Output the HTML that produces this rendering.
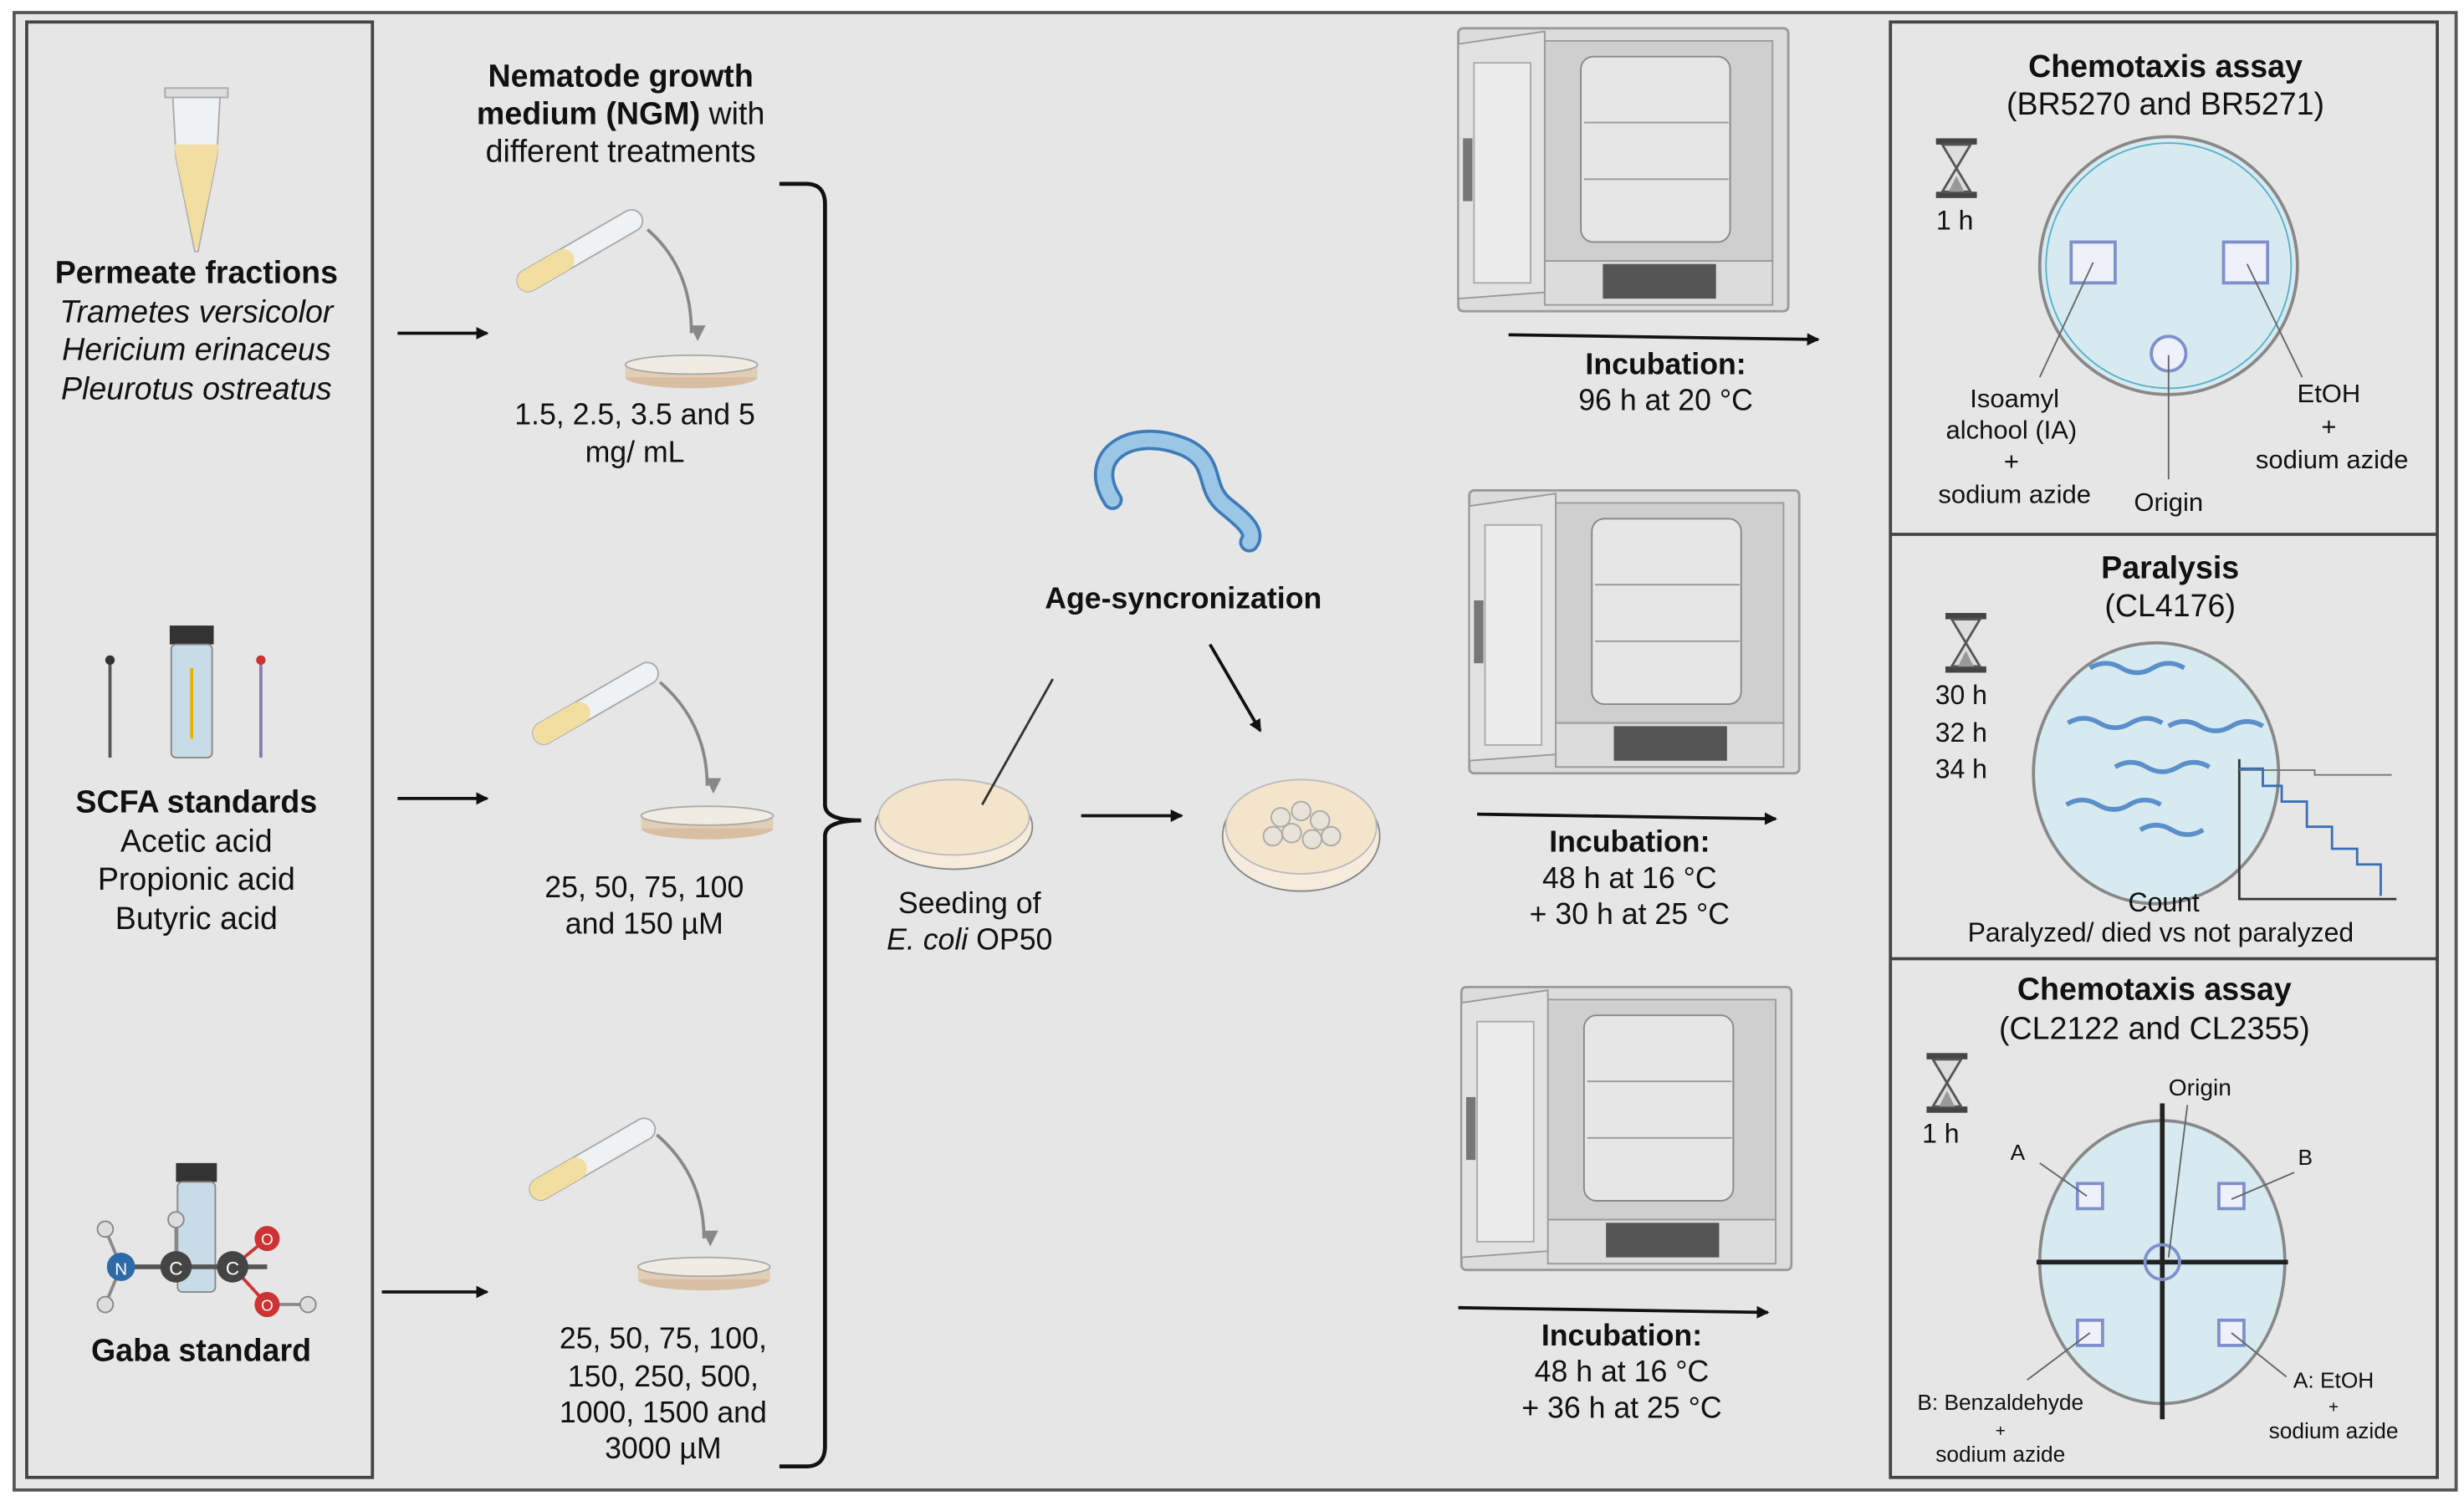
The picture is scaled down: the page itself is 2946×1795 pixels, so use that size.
<!DOCTYPE html>
<html><head><meta charset="utf-8"><style>
html,body{margin:0;padding:0;background:#fff;}
svg{display:block;}
text{font-family:"Liberation Sans",Arial,sans-serif;fill:#111;}
.b{font-weight:bold;}
</style></head><body>
<svg width="2946" height="1795" viewBox="0 0 1568 955" preserveAspectRatio="none" xmlns="http://www.w3.org/2000/svg">
<defs>
<marker id="ar" markerWidth="8" markerHeight="8" refX="7" refY="4" orient="auto" markerUnits="userSpaceOnUse"><path d="M0,0 L8,4 L0,8 Z" fill="#111"/></marker>
<marker id="ag" markerWidth="10" markerHeight="10" refX="5" refY="9" orient="auto" markerUnits="userSpaceOnUse"><path d="M0,0 L10,0 L5,10 Z" fill="#888" transform="rotate(-90 5 5)"/></marker>
<g id="inc">
  <rect x="0" y="0" width="210" height="180" fill="#dcdcdc" stroke="#9a9a9a" stroke-width="1.5" rx="3"/>
  <rect x="55" y="8" width="145" height="140" fill="#cfcfcf" stroke="#9a9a9a"/>
  <rect x="78" y="18" width="95" height="118" fill="#e6e6e6" stroke="#888" rx="8"/>
  <line x1="80" y1="60" x2="172" y2="60" stroke="#999"/>
  <line x1="80" y1="96" x2="172" y2="96" stroke="#999"/>
  <rect x="92" y="150" width="72" height="22" fill="#555"/>
  <rect x="55" y="148" width="145" height="28" fill="none" stroke="#9a9a9a"/>
  <path d="M0,10 L55,2 L55,168 L0,172 Z" fill="#e2e2e2" stroke="#999"/>
  <rect x="10" y="22" width="36" height="140" fill="#ececec" stroke="#aaa"/>
  <rect x="3" y="70" width="6" height="40" fill="#777"/>
</g>
<g id="hg">
  <rect x="0" y="0" width="26" height="4" fill="#444"/>
  <rect x="0" y="34" width="26" height="4" fill="#444"/>
  <path d="M4,4 L22,4 L13,19 L22,34 L4,34 L13,19 Z" fill="#ddd" stroke="#555" stroke-width="1.5"/>
  <path d="M8,34 L13,24 L18,34 Z" fill="#999"/>
</g>
<g id="tube">
  <g transform="rotate(-30)">
    <rect x="0" y="-7" width="90" height="14" rx="7" fill="#eef2f4" stroke="#aaa"/>
    <rect x="0" y="-7" width="40" height="14" rx="7" fill="#f1dea0"/>
  </g>
</g>
<g id="dish">
  <ellipse cx="0" cy="8" rx="42" ry="7" fill="#d8bfa4"/>
  <rect x="-42" y="0" width="84" height="8" fill="#e2cdb5"/>
  <ellipse cx="0" cy="0" rx="42" ry="6" fill="#f0ece4" stroke="#aaa"/>
</g>
</defs>
<rect x="0" y="0" width="1568" height="955" fill="#fff"/>
<rect x="9" y="8" width="1554" height="940" fill="#e6e6e6" stroke="#555" stroke-width="2"/>
<rect x="17" y="14" width="220" height="926" fill="#e6e6e6" stroke="#444" stroke-width="2"/>
<rect x="1203" y="14" width="348" height="926" fill="#e6e6e6" stroke="#444" stroke-width="2"/>
<line x1="1203" y1="340" x2="1551" y2="340" stroke="#444" stroke-width="2"/>
<line x1="1203" y1="610" x2="1551" y2="610" stroke="#444" stroke-width="2"/>

<!-- left column -->
<rect x="105" y="56" width="40" height="6" fill="#ddd" stroke="#aaa"/>
<path d="M110,62 L140,62 L138,100 L126,160 L124,160 L112,100 Z" fill="#eef2f4" stroke="#aaa"/>
<path d="M111,92 L139,92 L138,100 L126,158 L124,158 L112,100 Z" fill="#f1dea0"/>
<text x="125" y="180" font-size="20" text-anchor="middle" class="b">Permeate fractions</text>
<g font-size="20" font-style="italic" text-anchor="middle">
<text x="125" y="205">Trametes versicolor</text>
<text x="125" y="229">Hericium erinaceus</text>
<text x="125" y="254">Pleurotus ostreatus</text>
</g>
<line x1="70" y1="420" x2="70" y2="482" stroke="#555" stroke-width="2"/><circle cx="70" cy="420" r="3" fill="#333"/>
<rect x="108" y="398" width="28" height="12" fill="#333"/>
<rect x="109" y="410" width="26" height="72" rx="3" fill="#c8dce8" stroke="#888"/>
<line x1="122" y1="425" x2="122" y2="470" stroke="#e2b200" stroke-width="2"/>
<line x1="166" y1="420" x2="166" y2="482" stroke="#8a7ab0" stroke-width="2"/><circle cx="166" cy="420" r="3" fill="#c33"/>
<text x="125" y="517" font-size="20" text-anchor="middle" class="b">SCFA standards</text>
<g font-size="20" text-anchor="middle">
<text x="125" y="542">Acetic acid</text>
<text x="125" y="566">Propionic acid</text>
<text x="125" y="591">Butyric acid</text>
</g>
<rect x="112" y="740" width="26" height="12" fill="#333"/>
<rect x="113" y="752" width="24" height="70" rx="3" fill="#c8dce8" stroke="#888"/>
<line x1="77" y1="806" x2="170" y2="806" stroke="#555" stroke-width="3"/>
<line x1="112" y1="806" x2="112" y2="778" stroke="#888" stroke-width="2"/>
<line x1="148" y1="806" x2="170" y2="788" stroke="#c33" stroke-width="2"/>
<line x1="148" y1="806" x2="170" y2="830" stroke="#c33" stroke-width="2"/>
<line x1="77" y1="806" x2="67" y2="782" stroke="#888" stroke-width="2"/>
<line x1="77" y1="806" x2="67" y2="830" stroke="#888" stroke-width="2"/>
<line x1="170" y1="830" x2="196" y2="830" stroke="#888" stroke-width="2"/>
<circle cx="67" cy="782" r="5" fill="#ddd" stroke="#888"/>
<circle cx="67" cy="830" r="5" fill="#ddd" stroke="#888"/>
<circle cx="196" cy="830" r="5" fill="#ddd" stroke="#888"/>
<circle cx="112" cy="776" r="5" fill="#ddd" stroke="#888"/>
<circle cx="77" cy="806" r="9" fill="#2d6aa8"/><text x="77" y="811" font-size="11" text-anchor="middle" style="fill:#fff">N</text>
<circle cx="112" cy="806" r="10" fill="#444"/><text x="112" y="811" font-size="12" text-anchor="middle" style="fill:#fff">C</text>
<circle cx="148" cy="806" r="10" fill="#444"/><text x="148" y="811" font-size="12" text-anchor="middle" style="fill:#fff">C</text>
<circle cx="170" cy="788" r="8" fill="#c33"/><text x="170" y="792" font-size="10" text-anchor="middle" style="fill:#fff">O</text>
<circle cx="170" cy="830" r="8" fill="#c33"/><text x="170" y="834" font-size="10" text-anchor="middle" style="fill:#fff">O</text>
<text x="128" y="866" font-size="20" text-anchor="middle" class="b">Gaba standard</text>

<!-- NGM -->
<text x="395" y="55" font-size="20" text-anchor="middle" class="b">Nematode growth</text>
<text x="395" y="79" font-size="20" text-anchor="middle"><tspan font-weight="bold">medium (NGM)</tspan> with</text>
<text x="395" y="103" font-size="20" text-anchor="middle">different treatments</text>
<line x1="253" y1="212" x2="310" y2="212" stroke="#111" stroke-width="2" marker-end="url(#ar)"/>
<line x1="253" y1="508" x2="310" y2="508" stroke="#111" stroke-width="2" marker-end="url(#ar)"/>
<line x1="243" y1="822" x2="310" y2="822" stroke="#111" stroke-width="2" marker-end="url(#ar)"/>
<use href="#tube" x="330" y="182"/>
<path d="M412,146 Q440,170 440,212" fill="none" stroke="#888" stroke-width="2" marker-end="url(#ag)"/>
<use href="#dish" x="440" y="232"/>
<text x="404" y="270" font-size="19" text-anchor="middle">1.5, 2.5, 3.5 and 5</text>
<text x="404" y="294" font-size="19" text-anchor="middle">mg/ mL</text>
<use href="#tube" x="340" y="470"/>
<path d="M420,434 Q450,460 450,500" fill="none" stroke="#888" stroke-width="2" marker-end="url(#ag)"/>
<use href="#dish" x="450" y="519"/>
<text x="410" y="571" font-size="19" text-anchor="middle">25, 50, 75, 100</text>
<text x="410" y="594" font-size="19" text-anchor="middle">and 150 µM</text>
<use href="#tube" x="338" y="760"/>
<path d="M418,722 Q448,748 448,788" fill="none" stroke="#888" stroke-width="2" marker-end="url(#ag)"/>
<use href="#dish" x="448" y="806"/>
<g font-size="19" text-anchor="middle">
<text x="422" y="858">25, 50, 75, 100,</text>
<text x="422" y="882">150, 250, 500,</text>
<text x="422" y="905">1000, 1500 and</text>
<text x="422" y="928">3000  µM</text>
</g>
<path d="M496,117 L513,117 Q525,117 525,130 L525,512 Q525,522 548,522 Q525,522 525,532 L525,920 Q525,933 513,933 L496,933" fill="none" stroke="#111" stroke-width="2.5"/>

<!-- seeding -->
<ellipse cx="607" cy="526" rx="50" ry="27" fill="#f6ecdd" stroke="#888"/>
<ellipse cx="607" cy="520" rx="48" ry="24" fill="#f3e4cc" stroke="#bbb"/>
<line x1="625" y1="512" x2="670" y2="432" stroke="#333" stroke-width="1.5"/>
<text x="617" y="581" font-size="19" text-anchor="middle">Seeding of</text>
<text x="617" y="604" font-size="19" text-anchor="middle"><tspan font-style="italic">E. coli</tspan> OP50</text>
<line x1="688" y1="519" x2="752" y2="519" stroke="#111" stroke-width="2" marker-end="url(#ar)"/>
<ellipse cx="828" cy="532" rx="50" ry="35" fill="#f6ecdd" stroke="#888"/>
<ellipse cx="828" cy="526" rx="48" ry="30" fill="#f3e4cc" stroke="#bbb"/>
<g fill="#e8e2d8" stroke="#aaa"><circle cx="815" cy="520" r="6"/><circle cx="828" cy="516" r="6"/><circle cx="840" cy="522" r="6"/><circle cx="822" cy="530" r="6"/><circle cx="835" cy="534" r="6"/><circle cx="810" cy="532" r="6"/><circle cx="847" cy="532" r="6"/></g>
<path d="M708,318 C690,290 720,270 755,285 C775,295 765,310 780,322 C790,330 800,338 795,345" fill="none" stroke="#3e7cb8" stroke-width="13" stroke-linecap="round"/>
<path d="M708,318 C690,290 720,270 755,285 C775,295 765,310 780,322 C790,330 800,338 795,345" fill="none" stroke="#9cc6e6" stroke-width="9" stroke-linecap="round"/>
<text x="753" y="387" font-size="19" text-anchor="middle" class="b">Age-syncronization</text>
<line x1="770" y1="410" x2="802" y2="465" stroke="#111" stroke-width="2" marker-end="url(#ar)"/>

<!-- incubators -->
<use href="#inc" x="928" y="18"/>
<use href="#inc" x="935" y="312"/>
<use href="#inc" x="930" y="628"/>
<line x1="960" y1="213" x2="1157" y2="216" stroke="#111" stroke-width="2" marker-end="url(#ar)"/>
<text x="1060" y="238" font-size="19" text-anchor="middle" class="b">Incubation:</text>
<text x="1060" y="261" font-size="19" text-anchor="middle">96 h at 20 °C</text>
<line x1="940" y1="518" x2="1130" y2="521" stroke="#111" stroke-width="2" marker-end="url(#ar)"/>
<text x="1037" y="542" font-size="19" text-anchor="middle" class="b">Incubation:</text>
<text x="1037" y="565" font-size="19" text-anchor="middle">48 h at 16 °C</text>
<text x="1037" y="588" font-size="19" text-anchor="middle">+ 30 h at 25 °C</text>
<line x1="928" y1="832" x2="1125" y2="835" stroke="#111" stroke-width="2" marker-end="url(#ar)"/>
<text x="1032" y="856" font-size="19" text-anchor="middle" class="b">Incubation:</text>
<text x="1032" y="879" font-size="19" text-anchor="middle">48 h at 16 °C</text>
<text x="1032" y="902" font-size="19" text-anchor="middle">+ 36 h at 25 °C</text>

<!-- panel 1 -->
<text x="1378" y="49" font-size="20" text-anchor="middle" class="b">Chemotaxis assay</text>
<text x="1378" y="73" font-size="20" text-anchor="middle">(BR5270 and BR5271)</text>
<use href="#hg" x="1232" y="88"/>
<text x="1244" y="146" font-size="17" text-anchor="middle">1 h</text>
<circle cx="1380" cy="169" r="82" fill="#d6eaf0" stroke="#888" stroke-width="2"/>
<circle cx="1380" cy="169" r="78" fill="none" stroke="#5ab0cc" stroke-width="1"/>
<rect x="1318" y="154" width="28" height="26" fill="#eef1fa" stroke="#7f8fcc" stroke-width="2"/>
<rect x="1415" y="154" width="28" height="26" fill="#eef1fa" stroke="#7f8fcc" stroke-width="2"/>
<circle cx="1380" cy="225" r="11" fill="#eef1fa" stroke="#7f8fcc" stroke-width="2"/>
<g stroke="#666" stroke-width="1"><line x1="1332" y1="167" x2="1298" y2="240"/><line x1="1430" y1="168" x2="1465" y2="240"/><line x1="1380" y1="226" x2="1380" y2="305"/></g>
<g font-size="16.5" text-anchor="middle">
<text x="1282" y="259">Isoamyl</text><text x="1280" y="279">alchool (IA)</text><text x="1280" y="299">+</text><text x="1282" y="320">sodium azide</text>
<text x="1380" y="325">Origin</text>
<text x="1482" y="256">EtOH</text><text x="1482" y="277">+</text><text x="1484" y="298">sodium azide</text>
</g>
<!-- panel 2 -->
<text x="1381" y="368" font-size="20" text-anchor="middle" class="b">Paralysis</text>
<text x="1381" y="392" font-size="20" text-anchor="middle">(CL4176)</text>
<use href="#hg" x="1238" y="390"/>
<g font-size="17" text-anchor="middle"><text x="1248" y="448">30 h</text><text x="1248" y="472">32 h</text><text x="1248" y="495">34 h</text></g>
<ellipse cx="1372" cy="492" rx="78" ry="83" fill="#d6eaf0" stroke="#888" stroke-width="2"/>
<g fill="none" stroke="#5b8fc9" stroke-width="3">
<path d="M1330,425 q10,-6 20,0 t20,0 t20,0"/><path d="M1316,460 q10,-6 20,0 t20,0 t20,0"/><path d="M1380,462 q10,-6 20,0 t20,0 t20,0"/>
<path d="M1346,488 q10,-6 20,0 t20,0 t20,0"/><path d="M1315,512 q10,-6 20,0 t20,0 t20,0"/><path d="M1362,528 q10,-6 20,0 t20,0"/>
</g>
<path d="M1425,483 L1425,572 L1525,572" fill="none" stroke="#333" stroke-width="1.5"/>
<path d="M1425,490 L1473,490 L1473,493 L1522,493" fill="none" stroke="#777"/>
<path d="M1425,489 L1440,489 L1440,500 L1452,500 L1452,510 L1468,510 L1468,526 L1484,526 L1484,540 L1500,540 L1500,550 L1515,550 L1515,570" fill="none" stroke="#3a6fb5" stroke-width="1.5"/>
<text x="1377" y="580" font-size="17" text-anchor="middle">Count</text>
<text x="1375" y="599" font-size="17" text-anchor="middle">Paralyzed/ died vs not paralyzed</text>
<!-- panel 3 -->
<text x="1371" y="636" font-size="20" text-anchor="middle" class="b">Chemotaxis assay</text>
<text x="1371" y="661" font-size="20" text-anchor="middle">(CL2122 and CL2355)</text>
<use href="#hg" x="1226" y="670"/>
<text x="1235" y="727" font-size="17" text-anchor="middle">1 h</text>
<ellipse cx="1376" cy="803" rx="78" ry="90" fill="#d6eaf0" stroke="#888" stroke-width="2"/>
<line x1="1376" y1="702" x2="1376" y2="903" stroke="#222" stroke-width="3"/>
<line x1="1296" y1="803" x2="1456" y2="803" stroke="#222" stroke-width="3"/>
<circle cx="1376" cy="803" r="11" fill="none" stroke="#7f8fcc" stroke-width="2"/>
<g fill="#eef1fa" stroke="#7f8fcc" stroke-width="2"><rect x="1322" y="753" width="16" height="16"/><rect x="1412" y="753" width="16" height="16"/><rect x="1322" y="840" width="16" height="16"/><rect x="1412" y="840" width="16" height="16"/></g>
<g stroke="#666"><line x1="1298" y1="740" x2="1328" y2="761"/><line x1="1460" y1="746" x2="1420" y2="763"/><line x1="1392" y1="703" x2="1380" y2="800"/><line x1="1330" y1="848" x2="1290" y2="878"/><line x1="1420" y1="848" x2="1455" y2="876"/></g>
<g font-size="14" text-anchor="middle">
<text x="1400" y="697" font-size="15">Origin</text>
<text x="1284" y="738">A</text><text x="1467" y="741">B</text>
<text x="1273" y="897">B: Benzaldehyde</text><text x="1273" y="914" font-size="11">+</text><text x="1273" y="930">sodium azide</text>
<text x="1485" y="883">A: EtOH</text><text x="1485" y="899" font-size="11">+</text><text x="1485" y="915">sodium azide</text>
</g>
</svg>
</body></html>
